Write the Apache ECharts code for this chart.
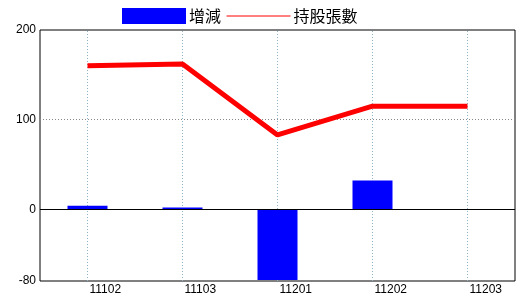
<!DOCTYPE html>
<html>
<head>
<meta charset="utf-8">
<script src="https://cdn.jsdelivr.net/npm/echarts@6/dist/echarts.min.js"></script>
<style>
html,body{margin:0;padding:0;background:#fff;}
#c{width:520px;height:300px;}
</style>
</head>
<body>
<div id="c"></div>
<script>
var categories = ['11102', '11103', '11201', '11202', '11203'];
var changeValues = [4, 2, -79, 32, 0];
var holdingValues = [160, 162, 83, 115, 115];
var yLabels = [-80, 0, 100, 200];
var yGridValue = 100;

var chart = echarts.init(document.getElementById('c'), null, {renderer: 'canvas'});
var labelFont = 'Liberation Sans';
chart.setOption({
  animation: false,
  backgroundColor: '#fff',
  legend: {
    left: 122, top: 8, padding: 0,
    itemWidth: 64, itemHeight: 16, itemGap: 5,
    textStyle: {fontFamily: 'Noto Sans CJK TC', fontSize: 16, color: '#000', padding: [0,0,0,-2]},
    data: [
      {name: '增減', icon: 'rect'},
      {name: '持股張數', itemStyle: {opacity: 0}, lineStyle: {width: 1, color: '#ff0000'}}
    ]
  },
  grid: {left: 40, right: 5, top: 30, bottom: 19, show: true, borderColor: '#000', borderWidth: 1, containLabel: false},
  xAxis: {
    type: 'category', data: categories, boundaryGap: true,
    axisLine: {show: false}, axisTick: {show: false}, splitLine: {show: false},
    axisLabel: {align: 'left', margin: 3, padding: [0,0,0,2], fontFamily: labelFont, fontSize: 12, color: '#000'}
  },
  yAxis: {
    type: 'value', min: -80, max: 200, interval: 20,
    axisLine: {show: false}, axisTick: {show: false}, splitLine: {show: false},
    axisLabel: {
      margin: 4, fontFamily: labelFont, fontSize: 12, color: '#000',
      formatter: function (v) { return yLabels.indexOf(v) >= 0 ? String(v) : ''; }
    }
  },
  series: [
    {
      name: '增減', type: 'bar', data: changeValues, barWidth: 40, z: 2,
      itemStyle: {color: '#0000ff'},
      markLine: {
        silent: true, symbol: 'none', label: {show: false}, z: 1,
        data: categories.map(function (c) {
          return {xAxis: c, lineStyle: {type: [1, 2], color: '#8fb4c8', width: 1}};
        }).concat([{yAxis: yGridValue, lineStyle: {type: [1, 2], color: '#888', width: 1}}])
      }
    },
    {
      name: '持股張數', type: 'line', data: holdingValues, z: 3,
      symbol: 'none', lineStyle: {color: '#ff0000', width: 5}, itemStyle: {color: '#ff0000'},
      markLine: {
        silent: true, symbol: 'none', label: {show: false},
        data: [{yAxis: 0, lineStyle: {type: 'solid', color: '#000', width: 1}}]
      }
    }
  ]
});
</script>
</body>
</html>
